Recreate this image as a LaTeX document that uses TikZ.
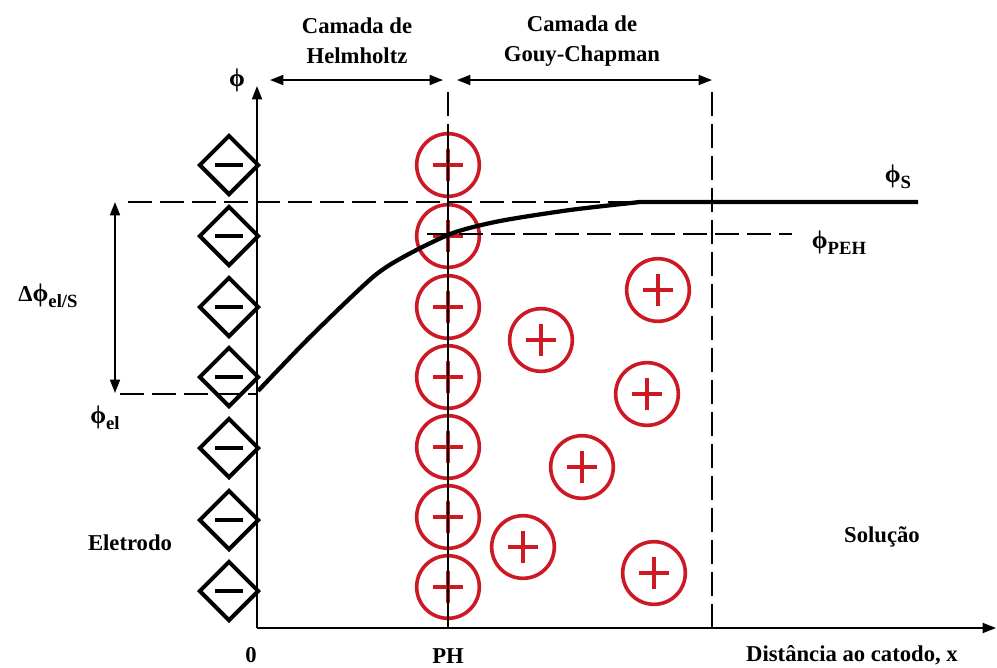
\documentclass[tikz,border=0pt]{standalone}
\usepackage{fontspec}
\setmainfont{Liberation Serif}
\usetikzlibrary{arrows.meta,shapes.geometric}
\definecolor{ionred}{RGB}{205,25,35}
\newcommand{\lowsub}[1]{\raisebox{-0.6ex}{\fontsize{14}{14}\selectfont #1}}
\newcommand{\myphi}{{\fontsize{19}{19}\selectfont ϕ}}
\begin{document}
\begin{tikzpicture}[x=0.75pt,y=-0.75pt,
  every node/.style={font=\fontsize{17}{22.5}\selectfont\bfseries, inner sep=0pt},
  anion/.style={diamond, draw=black, line width=3pt, inner sep=0pt,
    minimum width=45pt, minimum height=45pt,
    path picture={\draw[line width=3.6pt] ([xshift=-10.5pt]path picture bounding box.center) -- ([xshift=10.5pt]path picture bounding box.center);}},
  cation/.style={circle, draw=ionred, line width=2.7pt, inner sep=0pt, minimum size=47pt,
    path picture={\draw[ionred, line width=3.2pt]
      ([xshift=-11.5pt]path picture bounding box.center) -- ([xshift=11.5pt]path picture bounding box.center)
      ([yshift=-12pt]path picture bounding box.center) -- ([yshift=12pt]path picture bounding box.center);}},
  axisline/.style={line width=1.3pt, -{Triangle[length=10pt,width=7.5pt]}},
  dimline/.style={line width=1.3pt, {Triangle[length=10pt,width=7.5pt]}-{Triangle[length=10pt,width=7.5pt]}},
  dashline/.style={line width=1.2pt, dash pattern=on 18pt off 6pt},
  thinline/.style={line width=1.2pt},
  curveline/.style={line width=3.2pt, line join=round}
]
\useasboundingbox (0,0) rectangle (997,668);

% anions (electrode)
\foreach \i/\y in {1/165,2/236,3/307,4/377,5/448,6/520,7/591}
  \node[anion] (d\i) at (229,\y) {};

% cations on the Helmholtz plane
\foreach \i/\y in {1/165,2/236,3/307,4/377,5/447,6/517,7/587}
  \node[cation] (h\i) at (448,\y) {};

% diffuse-layer cations
\node[cation] (c1) at (658,290) {};
\node[cation] (c2) at (541,340) {};
\node[cation] (c3) at (647,394) {};
\node[cation] (c4) at (582,467) {};
\node[cation] (c5) at (523,547) {};
\node[cation] (c6) at (654,573) {};

% coordinates
\coordinate (O) at (257,628);
\coordinate (ytop) at (257,86);
\coordinate (xend) at (996,628);
\coordinate (hL) at (270,80);
\coordinate (hR) at (443,80);
\coordinate (gL) at (457,80);
\coordinate (gR) at (712,80);
\coordinate (phT) at (448,92);
\coordinate (phM) at (448,132);
\coordinate (phB) at (448,628);
\coordinate (gT) at (712,92);
\coordinate (gB) at (712,628);
\coordinate (sL) at (128,202);
\coordinate (sR) at (640,202);
\coordinate (pL) at (427,234);
\coordinate (pR) at (792,234);
\coordinate (eL) at (120,394);
\coordinate (eR) at (257,394);
\coordinate (dT) at (115,202);
\coordinate (dB) at (115,393);
\coordinate (cEnd) at (918,202);

% axes
\draw[axisline] (O) -- (ytop);
\draw[axisline] (O) -- (xend);

% layer extents
\draw[dimline] (hL) -- (hR);
\draw[dimline] (gL) -- (gR);

% planes
\draw[dashline] (phT) -- (phM);
\draw[thinline] (phM) -- (phB);
\draw[dashline] (gT) -- (gB);

% potential levels
\draw[dashline] (sL) -- (sR);
\draw[dashline] (pL) -- (pR);
\draw[dashline] (eL) -- (eR);
\draw[dimline] (dT) -- (dB);

% potential curve
\draw[curveline] plot[smooth, tension=0.45] coordinates
  {(258,391) (310,337) (373,277) (407,255) (453,233) (500,221) (570,210) (640,202)} -- (cEnd);

% labels
\node (tH) at (357,41) [align=center] {Camada de\\Helmholtz};
\node (tG) at (582,41) [align=center] {Camada de\\Gouy-Chapman};
\node (lphi) at (237,80) {\myphi};
\node (lphiS) at (898,177) {\myphi\lowsub{S}};
\node (lphiP) at (839,243) {\myphi\lowsub{PEH}};
\node (ldelta) at (48,296) {{\fontsize{17}{17}\selectfont Δ}\myphi\lowsub{el/S}};
\node (lphiel) at (105,418) {\myphi\lowsub{el}};
\node (l0) at (251,655) {0};
\node (lPH) at (448,656) {PH};
\node (ldist) at (852,655) {Distância ao catodo, x};
\node (lel) at (130,543) {Eletrodo};
\node (lsol) at (882,537) {Solução};
\end{tikzpicture}
\end{document}
